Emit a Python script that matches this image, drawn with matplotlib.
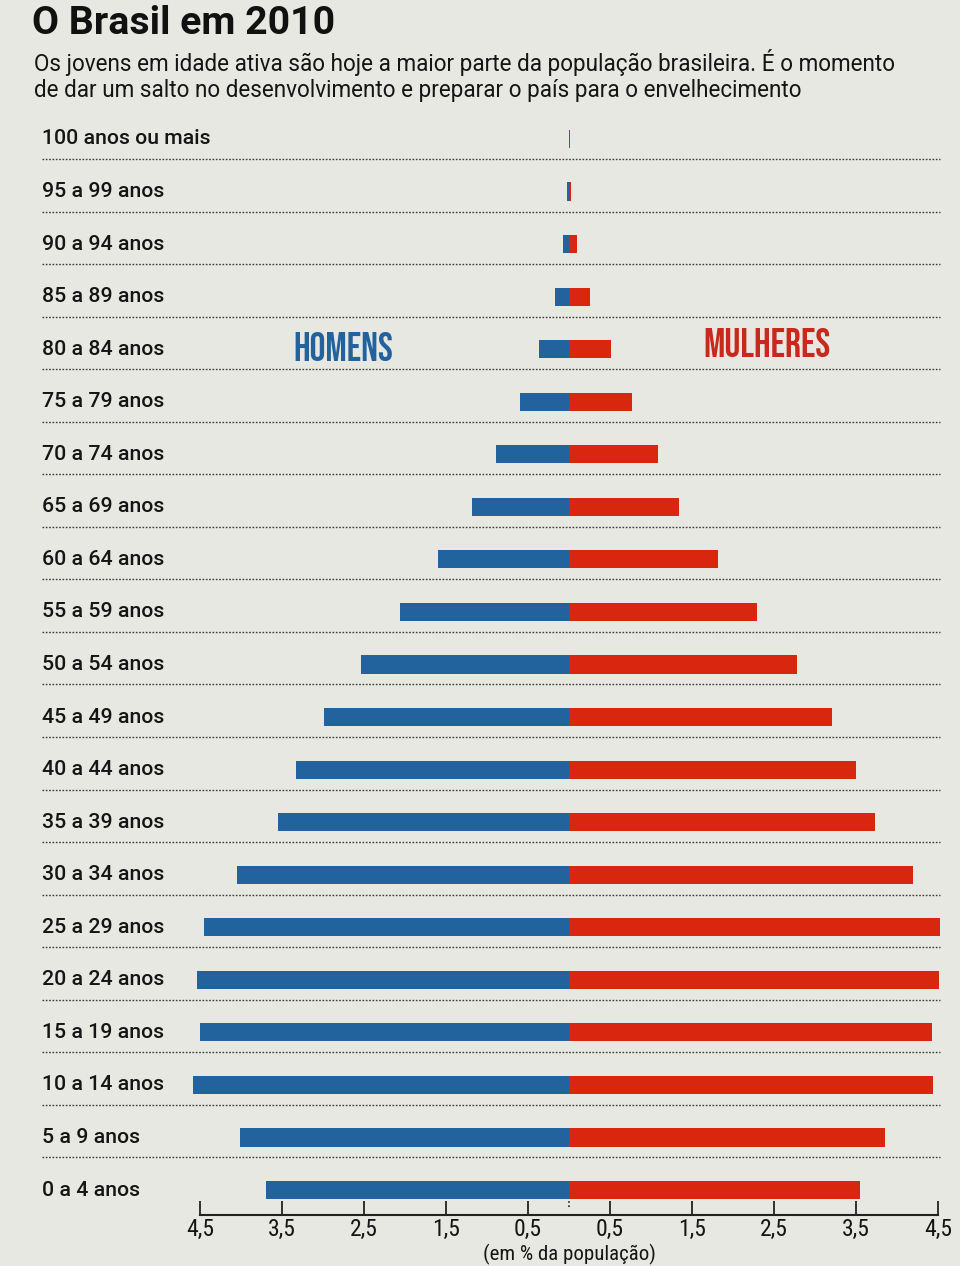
import matplotlib
matplotlib.use('Agg')
import matplotlib.pyplot as plt

# ---------------- data ----------------
faixas = ["0 a 4 anos", "5 a 9 anos", "10 a 14 anos", "15 a 19 anos", "20 a 24 anos",
          "25 a 29 anos", "30 a 34 anos", "35 a 39 anos", "40 a 44 anos", "45 a 49 anos",
          "50 a 54 anos", "55 a 59 anos", "60 a 64 anos", "65 a 69 anos", "70 a 74 anos",
          "75 a 79 anos", "80 a 84 anos", "85 a 89 anos", "90 a 94 anos", "95 a 99 anos",
          "100 anos ou mais"]
homens = [3.70, 4.01, 4.59, 4.50, 4.54, 4.45, 4.05, 3.55, 3.33, 2.99,
          2.54, 2.06, 1.60, 1.18, 0.89, 0.60, 0.37, 0.17, 0.07, 0.02, 0.005]
mulheres = [3.55, 3.85, 4.44, 4.43, 4.51, 4.52, 4.20, 3.73, 3.50, 3.21,
            2.78, 2.29, 1.82, 1.34, 1.09, 0.77, 0.51, 0.26, 0.10, 0.03, 0.01]
tick_vals = [-4.5, -3.5, -2.5, -1.5, -0.5, 0.5, 1.5, 2.5, 3.5, 4.5]
tick_labels = ["4,5", "3,5", "2,5", "1,5", "0,5", "0,5", "1,5", "2,5", "3,5", "4,5"]

# ---------------- style ----------------
SANS = ['Roboto', 'DejaVu Sans']
COND = ['Roboto Condensed', 'DejaVu Sans']
HEAD = ['Bebas Neue', 'Roboto Condensed', 'DejaVu Sans']
plt.rcParams['font.family'] = SANS
BG = '#e8e8e3'
BLUE = '#22629d'
RED = '#d9260f'
TEXT = '#151515'

W, H = 960, 1266
fig = plt.figure(figsize=(W / 100, H / 100), dpi=100)
fig.patch.set_facecolor(BG)
renderer = fig.canvas.get_renderer()


def fit(t, target_px):
    w = t.get_window_extent(renderer).width
    t.set_fontsize(t.get_fontsize() * target_px / w)
    return t.get_fontsize()


cx = 569.0      # pixel of zero
ppu = 82.0      # pixels per percent unit
y0_px = 1190.0  # pixel of first row
rowh = 52.55
ax_bottom_px = 1215.0
ax_top_px = 110.0

ax = fig.add_axes([0, (H - ax_bottom_px) / H, 1, (ax_bottom_px - ax_top_px) / H])
ax.set_facecolor(BG)
ax.set_xlim(-cx / ppu, (W - cx) / ppu)
ax.set_ylim(-(ax_bottom_px - y0_px) / rowh, 20 + (y0_px - 20 * rowh - ax_top_px) / rowh)


def px(x):
    return (x - cx) / ppu


y = list(range(len(faixas)))
ax.barh(y, [-v for v in homens], height=0.345, color=BLUE, left=0)
ax.barh(y, mulheres, height=0.345, color=RED, left=0)

# dotted separators
for i in range(len(faixas) - 1):
    ax.plot([px(42), px(940)], [i + 0.62, i + 0.62],
            color='#3a3a3a', lw=1.0, ls=(0, (1.2, 1.2)), zorder=0)

# row labels
labels = []
for i, lab in enumerate(faixas):
    labels.append(ax.text(px(42), i, lab, ha='left', va='center', fontsize=16,
                          fontweight='medium', color=TEXT, family=SANS))
fs = fit(labels[-1], 169)
for t in labels:
    t.set_fontsize(fs)

th = ax.text(px(343), 16.05, "HOMENS", ha='center', va='center', fontsize=30,
             color=BLUE, family=HEAD)
fit(th, 100)
tm = ax.text(px(767), 16.12, "MULHERES", ha='center', va='center', fontsize=30,
             color='#c9281c', family=HEAD)
fit(tm, 127)

# axis
for s in ['top', 'left', 'right']:
    ax.spines[s].set_visible(False)
ax.spines['bottom'].set_bounds(-4.5, 4.5)
ax.spines['bottom'].set_color('#222222')
ax.spines['bottom'].set_linewidth(1.5)
ax.set_yticks([])
ax.set_xticks(tick_vals)
ax.set_xticklabels(tick_labels, fontsize=17, color=TEXT, family=COND)
ax.tick_params(axis='x', direction='in', length=10, width=1.3, color='#222222', pad=2)
ax.plot([0, 0], [-0.33, -0.2], color='#222222', lw=1.2, ls=(0, (1, 1.5)))

tu = fig.text(cx / W, 1 - 1254 / H, "(em % da população)", ha='center', va='center',
              fontsize=15, color=TEXT, family=COND)
fit(tu, 173)

# title and subtitle
tt = fig.text(32 / W, 1 - 23 / H, "O Brasil em 2010", ha='left', va='center',
              fontsize=30, fontweight='bold', color='#111111', family=SANS)
fit(tt, 303)
s1 = fig.text(34 / W, 1 - 62 / H,
              "Os jovens em idade ativa são hoje a maior parte da população brasileira. É o momento",
              ha='left', va='center', fontsize=17, color=TEXT, family=SANS)
sfs = fit(s1, 866)
s2 = fig.text(34 / W, 1 - 91 / H,
              "de dar um salto no desenvolvimento e preparar o país para o envelhecimento",
              ha='left', va='center', fontsize=sfs, color=TEXT, family=SANS)

fig.savefig('out.png', dpi=100, facecolor=BG)
